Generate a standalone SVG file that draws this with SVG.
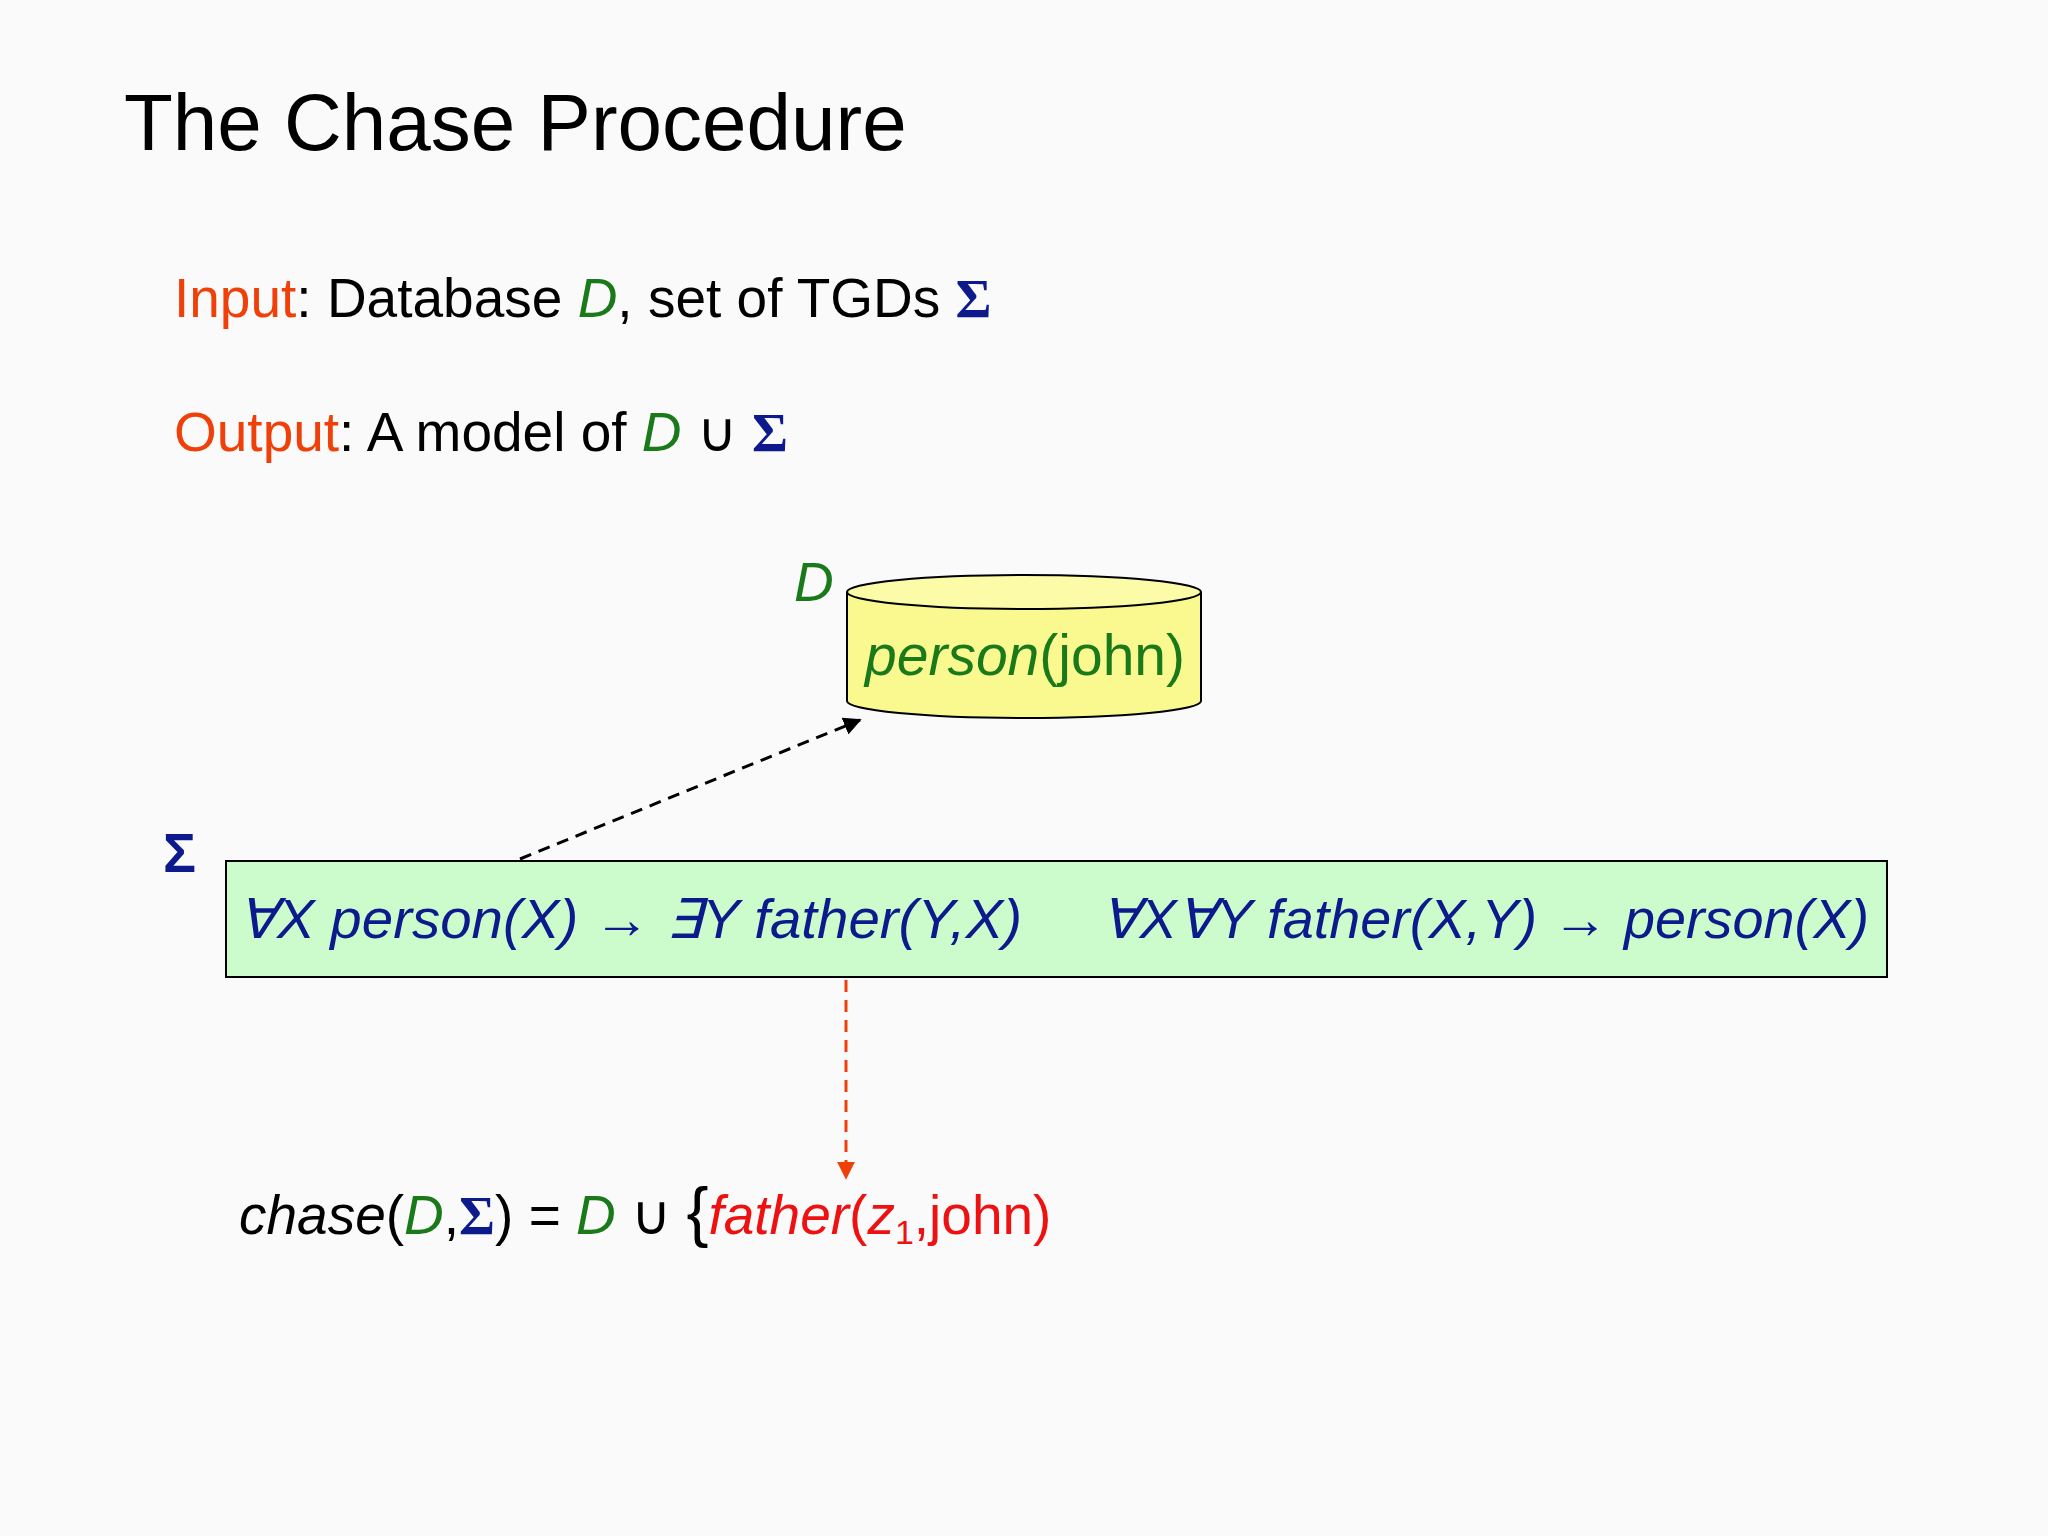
<svg xmlns="http://www.w3.org/2000/svg" width="2048" height="1536" viewBox="0 0 2048 1536">
<style>
text{font-family:"Liberation Sans",Arial,sans-serif;}
.i{font-style:italic}
.g{fill:#1a7a1a}
.b{fill:#0c1a8c}
.o{fill:#f0400a}
.r{fill:#ee1111}
.k{fill:#000}
</style>
<defs>
<marker id="ak" viewBox="0 0 10 10" refX="9" refY="5" markerWidth="6" markerHeight="6" orient="auto"><path d="M0,0L10,5L0,10z" fill="#000"/></marker>
<marker id="ar" viewBox="0 0 10 10" refX="9" refY="5" markerWidth="6" markerHeight="6" orient="auto"><path d="M0,0L10,5L0,10z" fill="#f0400a"/></marker>
</defs>
<rect width="2048" height="1536" fill="#fafafa"/>
<text x="124" y="150" font-size="80">The Chase Procedure</text>
<text x="174" y="317" font-size="55"><tspan class="o">Input</tspan>: Database <tspan class="g i">D</tspan>, set of TGDs <tspan class="b" font-family="Liberation Serif" font-weight="bold">Σ</tspan></text>
<text x="174" y="451" font-size="55"><tspan class="o">Output</tspan>: A model of <tspan class="g i">D</tspan> ∪ <tspan class="b" font-family="Liberation Serif" font-weight="bold">Σ</tspan></text>
<g id="db">
<path d="M847,592 L847,701 A177,17 0 0 0 1201,701 L1201,592" fill="#f9f98f" stroke="#000" stroke-width="2"/>
<ellipse cx="1024" cy="592" rx="177" ry="17" fill="#fbfba8" stroke="#000" stroke-width="2"/>
<text x="865" y="675" font-size="57" class="g"><tspan class="i">person</tspan>(john)</text>
<text x="794" y="601" font-size="55" class="g i">D</text>
</g>
<g id="sigma">
<text x="163" y="872" font-size="55" class="b" font-family="Liberation Serif" font-weight="bold">Σ</text>
<rect x="226" y="861" width="1661" height="116" fill="#ccfccc" stroke="#000" stroke-width="2"/>
<text x="238" y="938" font-size="55" class="b i" textLength="784" lengthAdjust="spacingAndGlyphs">∀X person(X) → ∃Y father(Y,X)</text>
<text x="1101" y="938" font-size="55" class="b i" textLength="768" lengthAdjust="spacingAndGlyphs">∀X∀Y father(X,Y) → person(X)</text>
</g>
<g id="connectors">
<line x1="520" y1="859" x2="860" y2="720" stroke="#000" stroke-width="3" stroke-dasharray="12,8" marker-end="url(#ak)"/>
<line x1="846" y1="980" x2="846" y2="1178" stroke="#f0400a" stroke-width="3" stroke-dasharray="12,8" marker-end="url(#ar)"/>
</g>
<g id="result">
<text x="239" y="1234" font-size="55"><tspan class="i">chase</tspan>(<tspan class="g i">D</tspan>,<tspan class="b" font-family="Liberation Serif" font-weight="bold">Σ</tspan>) = <tspan class="g i">D</tspan> ∪ <tspan font-size="66">{</tspan><tspan class="r i">father</tspan><tspan class="r">(</tspan><tspan class="r i">z</tspan><tspan class="r" font-size="34" dy="10">1</tspan><tspan class="r" dy="-10">,john)</tspan></text>
</g>
</svg>
